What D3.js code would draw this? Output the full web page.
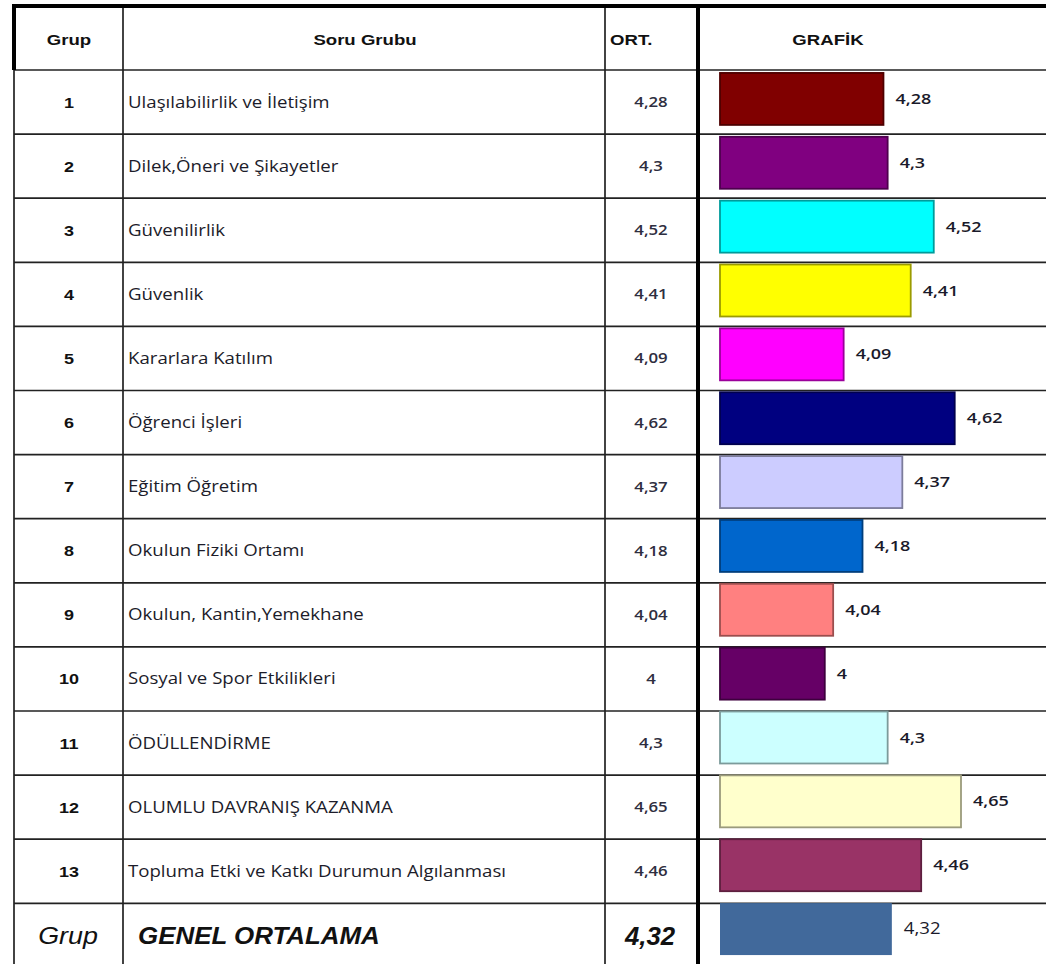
<!DOCTYPE html>
<html>
<head>
<meta charset="utf-8">
<script src="https://cdn.jsdelivr.net/npm/d3@7"></script>
<style>
  html, body { margin: 0; padding: 0; background: #fff; }
  svg { display: block; }
</style>
</head>
<body>
<script>
const WIDTH = 1046;
const HEIGHT = 964;

const groups = ["1", "2", "3", "4", "5", "6", "7", "8", "9", "10", "11", "12", "13"];
const questions = [
  "Ulaşılabilirlik ve İletişim",
  "Dilek,Öneri ve Şikayetler",
  "Güvenilirlik",
  "Güvenlik",
  "Kararlara Katılım",
  "Öğrenci İşleri",
  "Eğitim Öğretim",
  "Okulun Fiziki Ortamı",
  "Okulun, Kantin,Yemekhane",
  "Sosyal ve Spor Etkilikleri",
  "ÖDÜLLENDİRME",
  "OLUMLU DAVRANIŞ KAZANMA",
  "Topluma Etki ve Katkı Durumun Algılanması"
];
const averages = [4.28, 4.3, 4.52, 4.41, 4.09, 4.62, 4.37, 4.18, 4.04, 4, 4.3, 4.65, 4.46];
const barColors = ["#800000", "#800080", "#00ffff", "#ffff00", "#ff00ff", "#000080", "#ccccff",
                   "#0066cc", "#ff8080", "#660066", "#ccffff", "#ffffcc", "#993366"];
const generalLabel = "GENEL ORTALAMA";
const generalAverage = 4.32;
const generalColor = "#41699b";
const headers = ["Grup", "Soru Grubu", "ORT.", "GRAFİK"];

const fmt = v => String(v).replace(".", ",");

// table layout
const TOP = 6;
const HEADER_BOTTOM = 70;
const ROW_H = 64.1;
const COL_X = [14, 123, 605, 698];

const ARIAL = "'Liberation Sans', Arial, sans-serif";
const CALIBRI = "'Open Sans', sans-serif";

const svg = d3.select("body").append("svg")
  .attr("width", WIDTH)
  .attr("height", HEIGHT);

// the picture is a bit wider than tall, so the text is stretched sideways
const stretched = (sel, x, y, sx) => sel.attr("transform", `translate(${x},${y}) scale(${sx},1)`);

// rows: 13 groups + genel ortalama
const rows = groups.map((g, i) => ({
  id: g, name: questions[i], value: averages[i], color: barColors[i], general: false
}));
rows.push({ id: "G", name: generalLabel, value: generalAverage, color: generalColor, general: true });

const rowY = i => HEADER_BOTTOM + i * ROW_H;

// the bar scales
const x = d3.scaleLinear().domain([3.5, 4.65]).range([720, 961]);
const y = d3.scaleBand().domain(rows.map(d => d.id)).range([67, 961])
  .paddingInner(0.186).paddingOuter(0.093);

// grid lines
const grid = svg.append("g").attr("stroke", "#222");
rows.forEach((d, i) => {
  grid.append("line")
    .attr("x1", COL_X[0]).attr("x2", WIDTH)
    .attr("y1", rowY(i)).attr("y2", rowY(i))
    .attr("stroke-width", 1.7);
});
grid.append("line").attr("x1", COL_X[1]).attr("x2", COL_X[1]).attr("y1", TOP).attr("y2", HEIGHT).attr("stroke-width", 1.7);
grid.append("line").attr("x1", COL_X[2]).attr("x2", COL_X[2]).attr("y1", TOP).attr("y2", HEIGHT).attr("stroke-width", 1.7);
grid.append("line").attr("x1", COL_X[0]).attr("x2", COL_X[0]).attr("y1", HEADER_BOTTOM).attr("y2", HEIGHT).attr("stroke-width", 1.7);
// thick borders
grid.append("line").attr("x1", COL_X[3]).attr("x2", COL_X[3]).attr("y1", TOP).attr("y2", HEIGHT)
  .attr("stroke", "#000").attr("stroke-width", 4);
grid.append("line").attr("x1", 12).attr("x2", WIDTH).attr("y1", TOP).attr("y2", TOP)
  .attr("stroke", "#000").attr("stroke-width", 4);
grid.append("line").attr("x1", 14).attr("x2", 14).attr("y1", TOP - 2).attr("y2", HEADER_BOTTOM)
  .attr("stroke", "#000").attr("stroke-width", 4);

// header texts
const headerX = [69, 365, 610, 828];
svg.append("g").selectAll("text")
  .data(headers)
  .join("text")
  .each(function (d, i) { stretched(d3.select(this), headerX[i], 45, 1.2); })
  .attr("text-anchor", (d, i) => i === 2 ? "start" : "middle")
  .attr("font-family", ARIAL)
  .attr("font-weight", "bold")
  .attr("font-size", 15.5)
  .attr("fill", "#111")
  .text(d => d);

// body texts
const body = svg.append("g");
rows.forEach((d, i) => {
  const cy = rowY(i) + ROW_H / 2 + 5.5;
  if (!d.general) {
    stretched(body.append("text"), 69, cy, 1.2)
      .attr("text-anchor", "middle")
      .attr("font-family", ARIAL).attr("font-weight", "bold").attr("font-size", 15)
      .attr("fill", "#111").text(d.id);
    stretched(body.append("text"), 128, cy, 1.13)
      .attr("font-family", CALIBRI).attr("font-size", 16.5)
      .attr("fill", "#1c1c2a").text(d.name);
    stretched(body.append("text"), 651, cy - 0.5, 1.2)
      .attr("text-anchor", "middle")
      .attr("font-family", CALIBRI).attr("font-weight", 600).attr("font-size", 14)
      .attr("fill", "#2e2e40").text(fmt(d.value));
  } else {
    const gy = rowY(i) + 41;
    stretched(body.append("text"), 68, gy, 1.12)
      .attr("text-anchor", "middle")
      .attr("font-family", ARIAL).attr("font-style", "italic").attr("font-size", 24)
      .attr("fill", "#111").text("Grup");
    stretched(body.append("text"), 138, gy, 1.08)
      .attr("font-family", ARIAL).attr("font-style", "italic").attr("font-weight", "bold").attr("font-size", 24)
      .attr("fill", "#111").text(d.name);
    stretched(body.append("text"), 650, gy + 1, 1.03)
      .attr("text-anchor", "middle")
      .attr("font-family", ARIAL).attr("font-style", "italic").attr("font-weight", "bold").attr("font-size", 25)
      .attr("fill", "#111").text(fmt(d.value));
  }
});

// the bars
const bars = svg.append("g");
bars.selectAll("rect")
  .data(rows)
  .join("rect")
  .attr("x", x(3.5))
  .attr("y", d => y(d.id))
  .attr("width", d => x(d.value) - x(3.5))
  .attr("height", y.bandwidth())
  .attr("fill", d => d.color)
  .attr("stroke", d => d.general ? "none" : d3.color(d.color).darker(1.4))
  .attr("stroke-width", 1.8);

bars.selectAll("text")
  .data(rows)
  .join("text")
  .each(function (d) {
    stretched(d3.select(this), x(d.value) + 12, y(d.id) + y.bandwidth() / 2 + 5, 1.2);
  })
  .attr("font-family", CALIBRI)
  .attr("font-weight", d => d.general ? 400 : 600)
  .attr("font-size", d => d.general ? 15.5 : 15)
  .attr("fill", "#1a1a2a")
  .text(d => fmt(d.value));
</script>
</body>
</html>
